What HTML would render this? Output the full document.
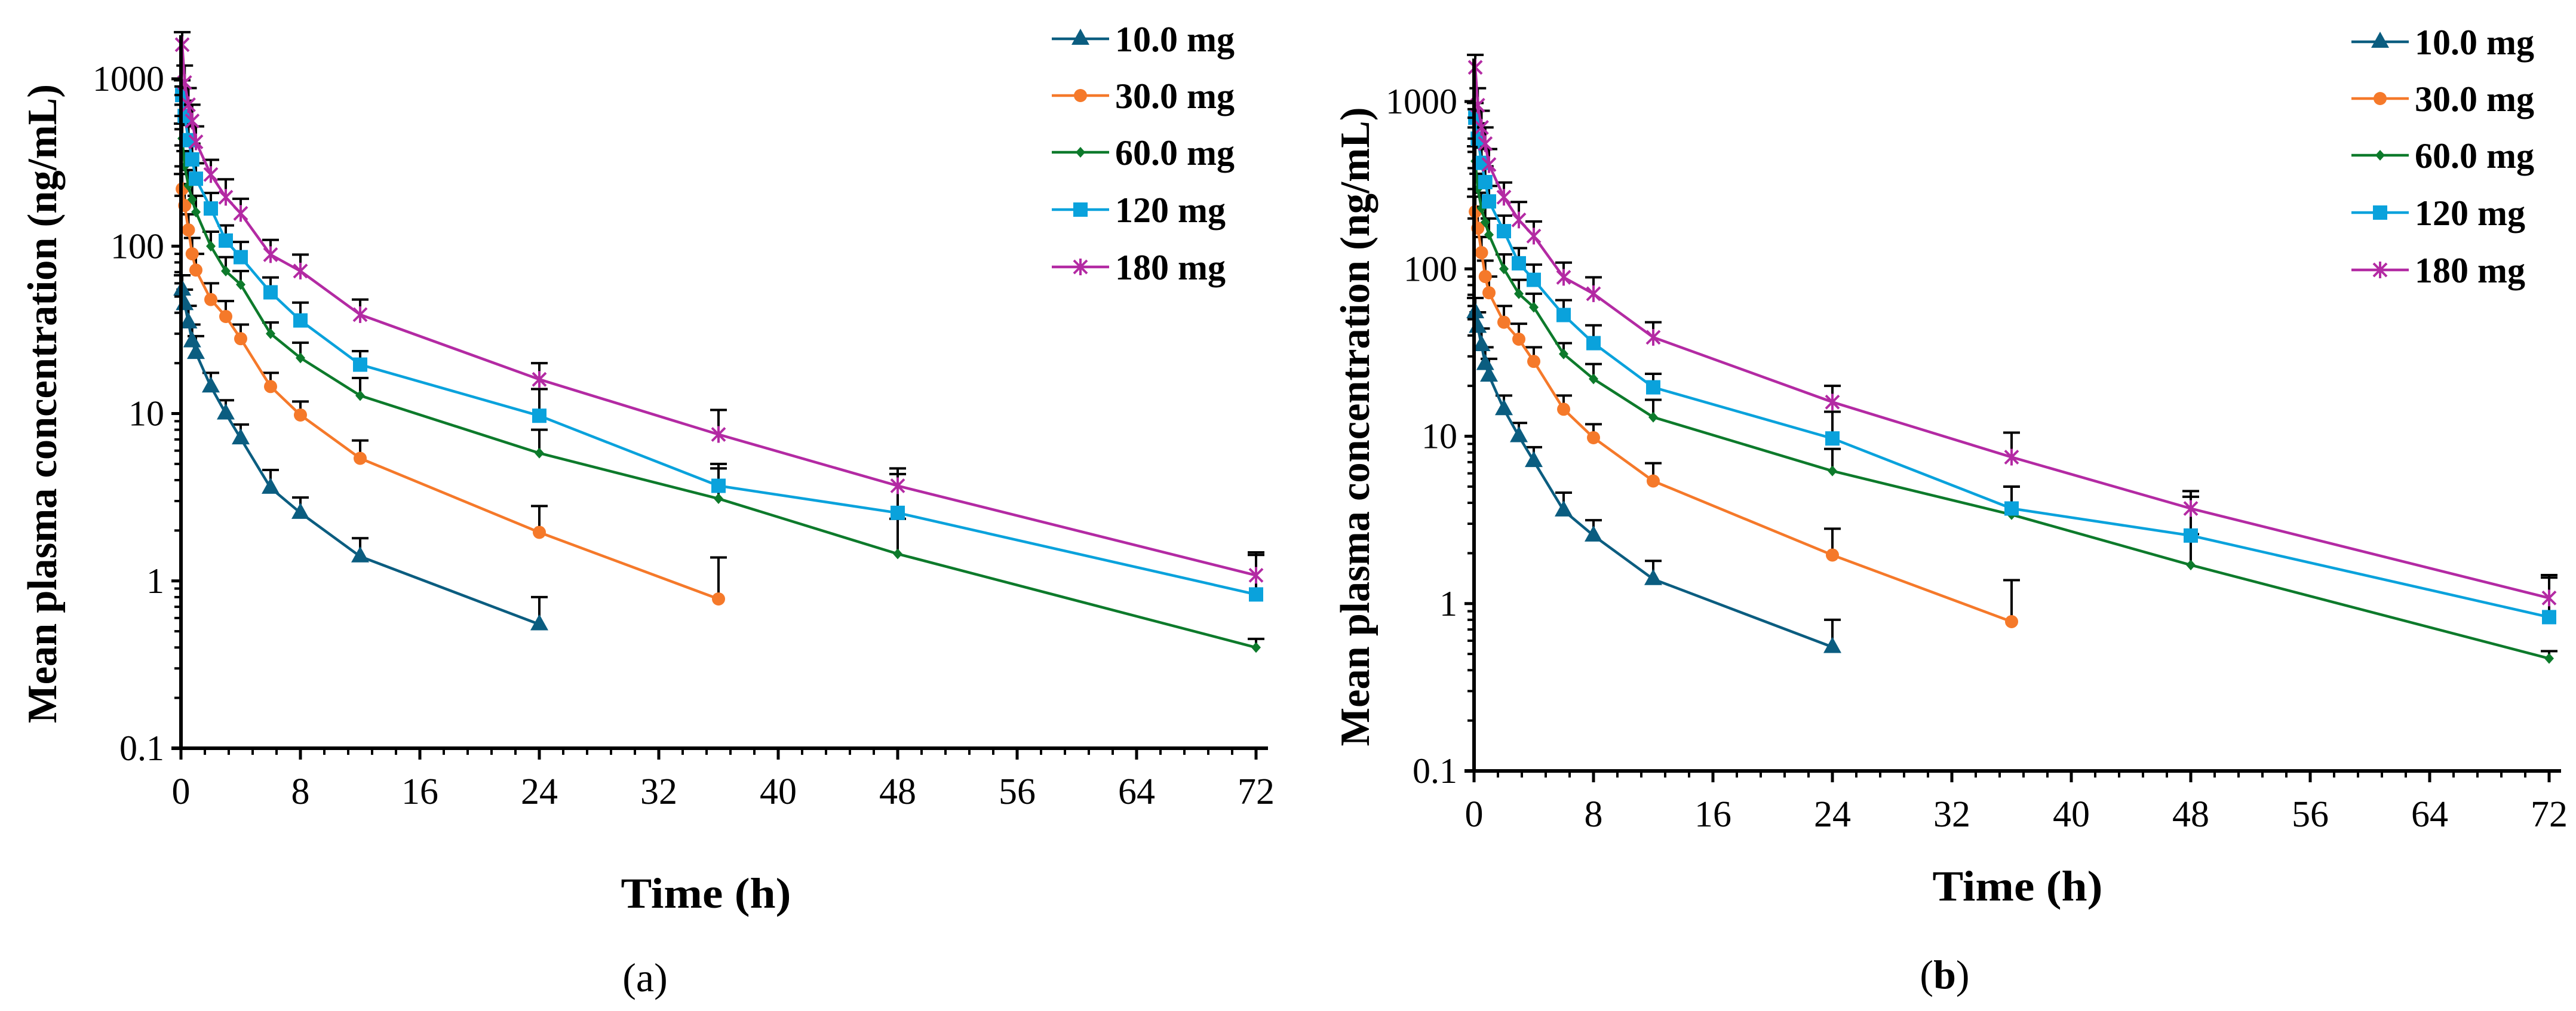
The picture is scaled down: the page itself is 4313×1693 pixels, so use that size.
<!DOCTYPE html>
<html><head><meta charset="utf-8"><style>
html,body{margin:0;padding:0;background:#fff;}
svg, svg text{font-family:"Liberation Serif","Times New Roman",Times,serif;}
</style></head><body>
<svg id="fig" width="4313" height="1688" viewBox="0 0 4313 1688" xmlns="http://www.w3.org/2000/svg" font-family="Liberation Serif, Times New Roman, serif"></svg>
<script>
const times = [0.083,0.25,0.5,0.75,1,2,3,4,6,8,12,24,36,48,72];
const seriesNames = ["10.0 mg","30.0 mg","60.0 mg","120 mg","180 mg"];
const yTickLabels = ["0.1","1","10","100","1000"];
const xTickLabels = ["0","8","16","24","32","40","48","56","64","72"];
// panel (a)
const a10  = [55,45,35,27,23,14.5,10,7.1,3.6,2.55,1.4,0.55];
const a30  = [220,175,125,90,72,48,38,28,14.5,9.8,5.4,1.95,0.78];
const a60  = [440,300,230,190,160,100,71,59,30,21.5,12.8,5.8,3.1,1.45,0.4];
const a120 = [800,600,430,330,253,168,108,86,53,36,19.6,9.7,3.7,2.55,0.83];
const a180 = [1600,950,700,560,420,268,196,157,89,71,39,16,7.5,3.7,1.08];
const a10sd  = [12,10,9,7,6,3,2,1.5,1,0.6,0.4,0.25];
const a30sd  = [50,40,30,22,18,12,9,6,3,2,1.5,0.85,0.6];
const a60sd  = [100,70,55,45,40,22,15,12,5,5,3.5,2.2,1.6,0.9,0.05];
const a120sd = [180,140,100,80,60,40,25,20,12,10,4,4.3,1.3,1.8,0.6];
const a180sd = [300,250,180,140,100,60,55,35,20,18,9,4,3,1,0.4];
// panel (b)
const b10  = [55,45,35,27,23,14.5,10,7.1,3.6,2.55,1.4,0.55];
const b30  = [220,175,125,90,72,48,38,28,14.5,9.8,5.4,1.95,0.78];
const b60  = [440,300,230,190,160,100,71,59,31,22,13,6.2,3.4,1.7,0.47];
const b120 = [800,600,430,330,253,168,108,86,53,36,19.6,9.7,3.7,2.55,0.83];
const b180 = [1600,950,700,560,420,268,196,157,89,71,39,16,7.5,3.7,1.08];
const b10sd = a10sd, b30sd = a30sd, b120sd = a120sd, b180sd = a180sd;
const b60sd  = [100,70,55,45,40,22,15,12,5,5,3.5,2.2,1.6,0.9,0.05];

const FONT = '"Liberation Serif", "Times New Roman", Times, serif';
const colors = ["#0b5d80","#f5792a","#0d7a2b","#0aa2dc","#b32aa3"];
const markers = ["tri","circle","diamond","square","star"];
const NS = "http://www.w3.org/2000/svg";
const svg = document.getElementById("fig");
function mk(tag, attrs, parent){const e=document.createElementNS(NS,tag);for(const k in attrs)e.setAttribute(k,attrs[k]);if(tag==="text")e.style.fontFamily=FONT;(parent||svg).appendChild(e);return e;}

function marker(g, type, cx, cy, color){
  let m;
  if(type==="tri") m=mk("polygon",{points:`${cx},${cy-17} ${cx-15},${cy+10} ${cx+15},${cy+10}`,fill:color},g);
  else if(type==="circle") m=mk("circle",{cx:cx,cy:cy,r:11,fill:color},g);
  else if(type==="diamond") m=mk("polygon",{points:`${cx},${cy-9} ${cx+8},${cy} ${cx},${cy+9} ${cx-8},${cy}`,fill:color},g);
  else if(type==="square") m=mk("rect",{x:cx-12,y:cy-12,width:24,height:24,fill:color},g);
  else { m=mk("path",{d:`M${cx-11},${cy-11}L${cx+11},${cy+11}M${cx+11},${cy-11}L${cx-11},${cy+11}M${cx},${cy-14}L${cx},${cy+14}`,stroke:color,"stroke-width":4,fill:"none"},g); }
  
  
}

function panel(id, x0, yBase, topPix, data, sds, legX, legY, titleX, xtX, xtY, capX, capY, cap){
  const hpx = 25, dec = 280.25;
  const X = t => x0 + t*hpx;
  const Y = v => yBase - (Math.log10(v)+1)*dec;
  const g = mk("g",{});
  
  
  for(let s=0;s<data.length;s++){
    const vals=data[s], sd=sds[s];
    const sg=mk("g",{},g);
    
    
    for(let i=0;i<vals.length;i++){
      const x=X(times[i]), y1=Y(vals[i]), y2=Y(vals[i]+sd[i]);
      const eb=mk("path",{d:`M${x},${y1}L${x},${y2}M${x-14},${y2}L${x+14},${y2}`,stroke:"#000","stroke-width":4,fill:"none"},sg);
      
      
    }
    const pts=vals.map((v,i)=>X(times[i])+","+Y(v)).join(" ");
    const pl=mk("polyline",{points:pts,fill:"none",stroke:colors[s],"stroke-width":4.5,"stroke-linejoin":"round"},sg);
    
    
    for(let i=0;i<vals.length;i++) marker(sg,markers[s],X(times[i]),Y(vals[i]),colors[s]);
  }
  const ax=mk("g",{},g);
  
  
  const yb=Y(0.1);
  let l=mk("line",{x1:x0,y1:topPix,x2:x0,y2:yb+2,stroke:"#000","stroke-width":6},ax);
   
  l=mk("line",{x1:x0-16,y1:yb,x2:X(72.8),y2:yb,stroke:"#000","stroke-width":6},ax);
   
  for(let d=0; d<yTickLabels.length; d++){
    const v=Math.pow(10,d-1), y=Y(v);
    mk("line",{x1:x0-16,y1:y,x2:x0,y2:y,stroke:"#000","stroke-width":5},ax);
    const t=mk("text",{x:x0-28,y:y+20,"text-anchor":"end","font-size":60},ax);
    t.textContent=yTickLabels[d];
     
    if(d<yTickLabels.length-1){
      for(let k=2;k<=9;k++){ const yy=Y(v*k); mk("line",{x1:x0-11,y1:yy,x2:x0,y2:yy,stroke:"#000","stroke-width":4},ax);}
    } else {
      const yy=Y(v*2); if(yy>topPix) mk("line",{x1:x0-11,y1:yy,x2:x0,y2:yy,stroke:"#000","stroke-width":4},ax);
    }
  }
  for(let i=0;i<=45;i++){
    const t=i*1.6, x=X(t), major=(i%5===0);
    mk("line",{x1:x,y1:yb,x2:x,y2:yb+(major?19:11),stroke:"#000","stroke-width":major?5:4},ax);
  }
  xTickLabels.forEach((lab,i)=>{
    const t=mk("text",{x:X(i*8),y:yb+93,"text-anchor":"middle","font-size":62},ax);
    t.textContent=lab;
     
  });
  const yc=(topPix+yb)/2+20;
  let tt=mk("text",{x:0,y:0,"text-anchor":"middle","font-size":70,"font-weight":"bold",transform:`translate(${titleX},${yc}) rotate(-90)`,textLength:1070,lengthAdjust:"spacingAndGlyphs"},g);
  tt.textContent="Mean plasma concentration (ng/mL)";
   
  tt=mk("text",{x:xtX,y:xtY,"text-anchor":"middle","font-size":72,"font-weight":"bold",textLength:285,lengthAdjust:"spacingAndGlyphs"},g);
  tt.textContent="Time (h)";
   
  tt=mk("text",{x:capX,y:capY,"text-anchor":"middle","font-size":68},g);
  tt.innerHTML = cap==="a" ? '(<tspan>a</tspan>)' : '(<tspan font-weight="bold">b</tspan>)';
   
  const lg=mk("g",{},g);
  
  
  const rowY=[0,95,190,286,382];
  seriesNames.forEach((n,s)=>{
    const y=legY+rowY[s];
    const e=mk("g",{},lg);
    
    
    mk("line",{x1:legX,y1:y,x2:legX+96,y2:y,stroke:colors[s],"stroke-width":4.5},e);
    marker(e,markers[s],legX+48,y,colors[s]);
    const t=mk("text",{x:legX+106,y:y+21,"font-size":60,"font-weight":"bold"},e);
    t.textContent=n;
  });
}
panel("a",303,1253,59,[a10,a30,a60,a120,a180],[a10sd,a30sd,a60sd,a120sd,a180sd],1761,65,94,1182,1520,1080,1660,"a");
panel("b",2468,1291,98,[b10,b30,b60,b120,b180],[b10sd,b30sd,b60sd,b120sd,b180sd],3937,70,2292,3378,1508,3256,1655,"b");
</script>
</body></html>
